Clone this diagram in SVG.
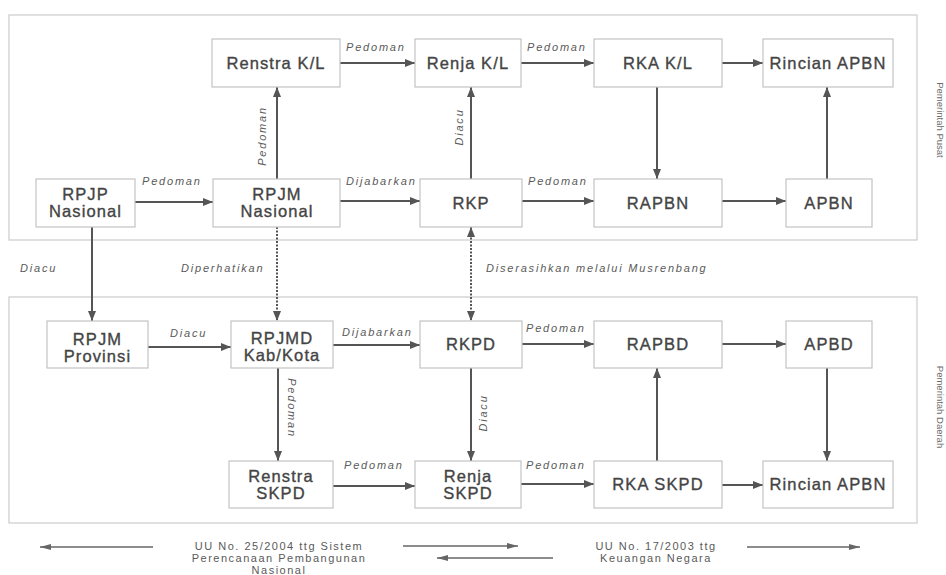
<svg xmlns="http://www.w3.org/2000/svg" width="946" height="575" viewBox="0 0 946 575">
<defs>
<style>
.frame{fill:none;stroke:#cfcfcf;stroke-width:1.3}
.box{fill:#fff;stroke:#c4c4c4;stroke-width:1.2}
.nt{font-family:"Liberation Sans",Arial,sans-serif;font-size:16.5px;fill:#444;stroke:#444;stroke-width:0.35;text-anchor:middle;letter-spacing:1.1px}
.lbl{font-family:"Liberation Sans",Arial,sans-serif;font-size:11px;font-style:italic;fill:#5a5a5a;letter-spacing:1.8px}
.leg{font-family:"Liberation Sans",Arial,sans-serif;font-size:11px;fill:#5a5a5a;text-anchor:middle;letter-spacing:1.5px}
.side{font-family:"Liberation Sans",Arial,sans-serif;font-size:9.5px;fill:#6a6a6a;text-anchor:middle}
.c{fill:none;stroke:#555;stroke-width:2;marker-end:url(#ah)}
.d{fill:none;stroke:#555;stroke-width:2;stroke-dasharray:2 1.5;marker-end:url(#ah)}
.db{fill:none;stroke:#555;stroke-width:2;stroke-dasharray:2 1.5;marker-end:url(#ah);marker-start:url(#ahs)}
.lg{fill:none;stroke:#666;stroke-width:1.5;marker-end:url(#ahl)}
</style>
<marker id="ah" markerUnits="userSpaceOnUse" markerWidth="10" markerHeight="8" refX="10" refY="4" orient="auto"><path d="M0,0 L10,4 L0,8 z" fill="#555"/></marker>
<marker id="ahs" markerUnits="userSpaceOnUse" markerWidth="10" markerHeight="8" refX="0" refY="4" orient="auto"><path d="M10,0 L0,4 L10,8 z" fill="#555"/></marker>
<marker id="ahl" markerUnits="userSpaceOnUse" markerWidth="11" markerHeight="6" refX="11" refY="3" orient="auto"><path d="M0,0 L11,3 L0,6 z" fill="#666"/></marker>
</defs>
<rect width="946" height="575" fill="#fff"/>
<g id="frames">
<rect class="frame" x="9" y="15" width="908" height="225"/>
<rect class="frame" x="9" y="297" width="908" height="226"/>
</g>
<g id="connectors">
<line class="c" x1="340" y1="63" x2="415" y2="63"/>
<line class="c" x1="521" y1="63" x2="594" y2="63"/>
<line class="c" x1="722" y1="63" x2="763" y2="63"/>
<line class="c" x1="135" y1="202" x2="213" y2="202"/>
<line class="c" x1="340" y1="201" x2="420" y2="201"/>
<line class="c" x1="522" y1="201" x2="594" y2="201"/>
<line class="c" x1="722" y1="201" x2="786" y2="201"/>
<line class="c" x1="277" y1="179" x2="277" y2="87"/>
<line class="c" x1="471" y1="179" x2="471" y2="87"/>
<line class="c" x1="657" y1="87" x2="657" y2="179"/>
<line class="c" x1="827" y1="179" x2="827" y2="87"/>
<line class="c" x1="92" y1="227" x2="92" y2="321"/>
<line class="d" x1="277" y1="227" x2="277" y2="321"/>
<line class="db" x1="471" y1="227" x2="471" y2="321"/>
<line class="c" x1="148" y1="347" x2="231" y2="347"/>
<line class="c" x1="333" y1="345" x2="420" y2="345"/>
<line class="c" x1="522" y1="344" x2="594" y2="344"/>
<line class="c" x1="722" y1="344" x2="786" y2="344"/>
<line class="c" x1="278" y1="368" x2="278" y2="461"/>
<line class="c" x1="471" y1="368" x2="471" y2="461"/>
<line class="c" x1="657" y1="461" x2="657" y2="368"/>
<line class="c" x1="827" y1="368" x2="827" y2="461"/>
<line class="c" x1="333" y1="486" x2="415" y2="486"/>
<line class="c" x1="521" y1="484" x2="594" y2="484"/>
<line class="c" x1="722" y1="485" x2="763" y2="485"/>
<text class="lbl" x="346" y="51">Pedoman</text>
<text class="lbl" x="527" y="51">Pedoman</text>
<text class="lbl" x="142" y="185">Pedoman</text>
<text class="lbl" x="346" y="185">Dijabarkan</text>
<text class="lbl" x="528" y="185">Pedoman</text>
<text class="lbl" text-anchor="middle" transform="translate(266,136) rotate(-90)">Pedoman</text>
<text class="lbl" text-anchor="middle" transform="translate(463,127) rotate(-90)">Diacu</text>
<text class="lbl" x="20" y="272">Diacu</text>
<text class="lbl" x="181" y="272">Diperhatikan</text>
<text class="lbl" x="486" y="272">Diserasihkan melalui Musrenbang</text>
<text class="lbl" x="170" y="337">Diacu</text>
<text class="lbl" x="342" y="336">Dijabarkan</text>
<text class="lbl" x="526" y="332">Pedoman</text>
<text class="lbl" text-anchor="middle" transform="translate(288,408) rotate(90)">Pedoman</text>
<text class="lbl" text-anchor="middle" transform="translate(487,413) rotate(-90)">Diacu</text>
<text class="lbl" x="344" y="469">Pedoman</text>
<text class="lbl" x="526" y="469">Pedoman</text>
</g>
<g id="n-renstra-kl"><rect class="box" x="212" y="39" width="128" height="48"/><text class="nt" x="276" y="69">Renstra K/L</text></g>
<g id="n-renja-kl"><rect class="box" x="415" y="39" width="106" height="48"/><text class="nt" x="468" y="69">Renja K/L</text></g>
<g id="n-rka-kl"><rect class="box" x="594" y="39" width="128" height="48"/><text class="nt" x="658" y="69">RKA K/L</text></g>
<g id="n-rincian-apbn-top"><rect class="box" x="763" y="39" width="130" height="48"/><text class="nt" x="828" y="69">Rincian APBN</text></g>
<g id="n-rpjp"><rect class="box" x="36" y="179" width="99" height="48"/><text class="nt" x="85.5" y="200">RPJP</text><text class="nt" x="85.5" y="217">Nasional</text></g>
<g id="n-rpjm"><rect class="box" x="213" y="179" width="127" height="48"/><text class="nt" x="277" y="200">RPJM</text><text class="nt" x="277" y="217">Nasional</text></g>
<g id="n-rkp"><rect class="box" x="420" y="179" width="102" height="48"/><text class="nt" x="471" y="209">RKP</text></g>
<g id="n-rapbn"><rect class="box" x="594" y="179" width="128" height="48"/><text class="nt" x="658" y="209">RAPBN</text></g>
<g id="n-apbn"><rect class="box" x="786" y="179" width="86" height="48"/><text class="nt" x="829" y="209">APBN</text></g>
<g id="n-rpjm-prov"><rect class="box" x="47" y="321" width="101" height="47"/><text class="nt" x="97.5" y="345">RPJM</text><text class="nt" x="97.5" y="362">Provinsi</text></g>
<g id="n-rpjmd"><rect class="box" x="231" y="321" width="102" height="47"/><text class="nt" x="282" y="344">RPJMD</text><text class="nt" x="282" y="361">Kab/Kota</text></g>
<g id="n-rkpd"><rect class="box" x="420" y="321" width="102" height="47"/><text class="nt" x="471" y="350">RKPD</text></g>
<g id="n-rapbd"><rect class="box" x="594" y="321" width="128" height="47"/><text class="nt" x="658" y="350">RAPBD</text></g>
<g id="n-apbd"><rect class="box" x="786" y="321" width="86" height="47"/><text class="nt" x="829" y="350">APBD</text></g>
<g id="n-renstra-skpd"><rect class="box" x="229" y="461" width="104" height="47"/><text class="nt" x="281" y="482">Renstra</text><text class="nt" x="281" y="499">SKPD</text></g>
<g id="n-renja-skpd"><rect class="box" x="415" y="461" width="106" height="47"/><text class="nt" x="468" y="482">Renja</text><text class="nt" x="468" y="499">SKPD</text></g>
<g id="n-rka-skpd"><rect class="box" x="594" y="461" width="128" height="47"/><text class="nt" x="658" y="490">RKA SKPD</text></g>
<g id="n-rincian-apbn-bot"><rect class="box" x="763" y="461" width="130" height="47"/><text class="nt" x="828" y="490">Rincian APBN</text></g>
<g id="side-labels">
<text class="side" transform="translate(937,120) rotate(90)">Pemerintah Pusat</text>
<text class="side" transform="translate(937,407) rotate(90)">Pemerintah Daerah</text>
</g>
<g id="legend">
<line class="lg" x1="153" y1="547" x2="40" y2="547"/>
<line class="lg" x1="403" y1="546" x2="518" y2="546"/>
<line class="lg" x1="553" y1="558" x2="437" y2="558"/>
<line class="lg" x1="747" y1="547" x2="860" y2="547"/>
<text class="leg" x="279" y="550">UU No. 25/2004 ttg Sistem</text>
<text class="leg" x="279" y="562">Perencanaan Pembangunan</text>
<text class="leg" x="279" y="574">Nasional</text>
<text class="leg" x="656" y="550">UU No. 17/2003 ttg</text>
<text class="leg" x="656" y="562">Keuangan Negara</text>
</g>
</svg>
